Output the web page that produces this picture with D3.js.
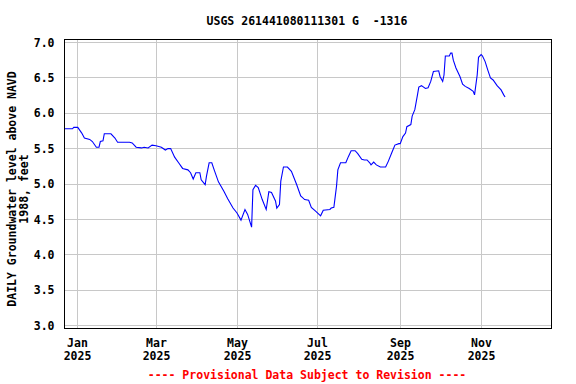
<!DOCTYPE html>
<html>
<head>
<meta charset="utf-8">
<script src="https://cdn.jsdelivr.net/npm/d3@7"></script>
<style>
  body { margin: 0; background: #fff; }
  text { font-family: "DejaVu Sans Mono", monospace; font-weight: bold; }
</style>
</head>
<body>
<div id="chart"></div>
<script>
// daily groundwater level readings (feet above NAVD 1988)
var dates = [
  "2024-12-22", "2024-12-28", "2024-12-29", "2025-01-01", "2025-01-04", "2025-01-06", "2025-01-10",
  "2025-01-12", "2025-01-15", "2025-01-17", "2025-01-18", "2025-01-20", "2025-01-21", "2025-01-26",
  "2025-01-29", "2025-01-31", "2025-02-09", "2025-02-11", "2025-02-14", "2025-02-18", "2025-02-20",
  "2025-02-23", "2025-02-26", "2025-03-01", "2025-03-05", "2025-03-08", "2025-03-10", "2025-03-12",
  "2025-03-15", "2025-03-18", "2025-03-21", "2025-03-25", "2025-03-27", "2025-03-29", "2025-03-31",
  "2025-04-03", "2025-04-04", "2025-04-07", "2025-04-08", "2025-04-10", "2025-04-12", "2025-04-14",
  "2025-04-17", "2025-04-21", "2025-04-24", "2025-04-28", "2025-05-01", "2025-05-04", "2025-05-07",
  "2025-05-09", "2025-05-12", "2025-05-13", "2025-05-15", "2025-05-17", "2025-05-20", "2025-05-23",
  "2025-05-25", "2025-05-27", "2025-05-30", "2025-05-31", "2025-06-02", "2025-06-03", "2025-06-05",
  "2025-06-08", "2025-06-11", "2025-06-15", "2025-06-18", "2025-06-21", "2025-06-24", "2025-06-26",
  "2025-06-29", "2025-07-03", "2025-07-05", "2025-07-10", "2025-07-11", "2025-07-13", "2025-07-15",
  "2025-07-16", "2025-07-18", "2025-07-22", "2025-07-24", "2025-07-26", "2025-07-29", "2025-07-31",
  "2025-08-03", "2025-08-05", "2025-08-07", "2025-08-09", "2025-08-10", "2025-08-12", "2025-08-14",
  "2025-08-17", "2025-08-21", "2025-08-23", "2025-08-26", "2025-08-28", "2025-08-31", "2025-09-01",
  "2025-09-03", "2025-09-05", "2025-09-06", "2025-09-09", "2025-09-10", "2025-09-12", "2025-09-14",
  "2025-09-15", "2025-09-17", "2025-09-20", "2025-09-22", "2025-09-24", "2025-09-26", "2025-09-30",
  "2025-10-01", "2025-10-03", "2025-10-04", "2025-10-05", "2025-10-08", "2025-10-09", "2025-10-10",
  "2025-10-11", "2025-10-13", "2025-10-16", "2025-10-18", "2025-10-20", "2025-10-23", "2025-10-26",
  "2025-10-27", "2025-10-29", "2025-10-30", "2025-11-01", "2025-11-02", "2025-11-04", "2025-11-06",
  "2025-11-08", "2025-11-10", "2025-11-13", "2025-11-16", "2025-11-18", "2025-11-19"
];
var levels = [
  5.78, 5.78, 5.80, 5.80, 5.72, 5.65, 5.63,
  5.60, 5.52, 5.52, 5.60, 5.61, 5.71, 5.71,
  5.65, 5.59, 5.59, 5.58, 5.52, 5.51, 5.52,
  5.51, 5.55, 5.54, 5.52, 5.48, 5.50, 5.50,
  5.38, 5.30, 5.22, 5.20, 5.16, 5.07, 5.16,
  5.16, 5.06, 4.99, 5.11, 5.30, 5.30, 5.19,
  5.03, 4.90, 4.79, 4.66, 4.59, 4.49, 4.64,
  4.57, 4.39, 4.92, 4.98, 4.95, 4.78, 4.64,
  4.89, 4.88, 4.76, 4.66, 4.71, 5.04, 5.24,
  5.24, 5.18, 4.99, 4.83, 4.78, 4.77, 4.67,
  4.62, 4.55, 4.63, 4.64, 4.66, 4.67, 4.97,
  5.20, 5.30, 5.30, 5.39, 5.47, 5.47, 5.43,
  5.35, 5.34, 5.34, 5.30, 5.27, 5.31, 5.27,
  5.24, 5.24, 5.32, 5.46, 5.55, 5.57, 5.57,
  5.67, 5.72, 5.81, 5.84, 5.96, 6.05, 6.26,
  6.37, 6.39, 6.35, 6.36, 6.45, 6.59, 6.60,
  6.52, 6.45, 6.54, 6.81, 6.81, 6.85, 6.85,
  6.75, 6.64, 6.52, 6.41, 6.38, 6.35, 6.31,
  6.26, 6.54, 6.79, 6.83, 6.81, 6.73, 6.61,
  6.50, 6.47, 6.39, 6.33, 6.26, 6.23
];
var monthTicks = ["2025-01-01", "2025-03-01", "2025-05-01", "2025-07-01", "2025-09-01", "2025-11-01"];
var yTicks = [3.0, 3.5, 4.0, 4.5, 5.0, 5.5, 6.0, 6.5, 7.0];

var title = "USGS 261441080111301 G  -1316";
var yLabel = ["DAILY Groundwater level above NAVD", "1988, feet"];
var footer = "---- Provisional Data Subject to Revision ----";

var width = 576, height = 384;
var margin = {top: 40, right: 25, bottom: 55, left: 64};
var plotW = width - margin.left - margin.right,
    plotH = height - margin.top - margin.bottom;
var fontSize = "11.5px";

var parse = d3.timeParse("%Y-%m-%d");
var data = dates.map(function(d, i) { return {date: parse(d), value: levels[i]}; });

var x = d3.scaleTime()
    .domain([parse("2024-12-22"), parse("2025-12-24")])
    .range([0, plotW]);
var y = d3.scaleLinear()
    .domain([3.0, 7.0])
    .range([plotH - 3, 3]);

var svg = d3.select("#chart").append("svg")
    .attr("width", width)
    .attr("height", height);

svg.append("rect")
    .attr("width", width)
    .attr("height", height)
    .attr("fill", "#fff");

var g = svg.append("g")
    .attr("transform", "translate(" + (margin.left + 0.5) + "," + (margin.top - 0.5) + ")");

// grid
var tickDates = monthTicks.map(parse);
g.append("g")
    .selectAll("line")
    .data(tickDates)
    .enter().append("line")
    .attr("x1", function(d) { return Math.round(x(d)); })
    .attr("x2", function(d) { return Math.round(x(d)); })
    .attr("y1", 0)
    .attr("y2", plotH)
    .attr("stroke", "#c8c8c8")
    .attr("stroke-width", 1);

g.append("g")
    .selectAll("line")
    .data(yTicks)
    .enter().append("line")
    .attr("x1", 0)
    .attr("x2", plotW)
    .attr("y1", function(d) { return Math.round(y(d)); })
    .attr("y2", function(d) { return Math.round(y(d)); })
    .attr("stroke", "#c8c8c8")
    .attr("stroke-width", 1);

// data line
g.append("clipPath")
    .attr("id", "clip")
    .append("rect")
    .attr("width", plotW)
    .attr("height", plotH);

g.append("path")
    .datum(data)
    .attr("clip-path", "url(#clip)")
    .attr("fill", "none")
    .attr("stroke", "#0000ff")
    .attr("stroke-width", 1.1)
    .attr("d", d3.line()
        .x(function(d) { return x(d.date); })
        .y(function(d) { return y(d.value); }));

// frame
g.append("rect")
    .attr("width", plotW)
    .attr("height", plotH)
    .attr("fill", "none")
    .attr("stroke", "#000")
    .attr("stroke-width", 1);

// y axis labels
var yAxis = d3.axisLeft(y)
    .tickValues(yTicks)
    .tickFormat(d3.format(".1f"))
    .tickSize(0)
    .tickPadding(10);
g.append("g")
    .call(yAxis)
    .call(function(s) { s.select(".domain").remove(); })
    .selectAll("text")
    .attr("font-family", "DejaVu Sans Mono")
    .attr("font-weight", "bold")
    .attr("font-size", fontSize)
    .attr("fill", "#000");

// x axis labels: month on top, year below (separate texts)
var xg = g.append("g")
    .attr("transform", "translate(0," + plotH + ")");
var ticks = xg.selectAll("g.tick")
    .data(tickDates)
    .enter().append("g")
    .attr("class", "tick")
    .attr("transform", function(d) { return "translate(" + Math.round(x(d)) + ",0)"; });
ticks.append("text")
    .attr("y", 18)
    .attr("text-anchor", "middle")
    .attr("font-size", fontSize)
    .text(d3.timeFormat("%b"));
ticks.append("text")
    .attr("y", 31)
    .attr("text-anchor", "middle")
    .attr("font-size", fontSize)
    .text(d3.timeFormat("%Y"));

// title
svg.append("text")
    .attr("x", 307)
    .attr("y", 25)
    .attr("text-anchor", "middle")
    .attr("font-size", fontSize)
    .style("white-space", "pre")
    .text(title);

// y axis title
var yl = svg.append("text")
    .attr("transform", "translate(16,189) rotate(-90)")
    .attr("text-anchor", "middle")
    .attr("font-size", fontSize);
yl.append("tspan").attr("x", 0).attr("y", 0).text(yLabel[0]);
yl.append("tspan").attr("x", 0).attr("y", 12).text(yLabel[1]);

// footer
svg.append("text")
    .attr("x", 307)
    .attr("y", 379)
    .attr("text-anchor", "middle")
    .attr("font-size", fontSize)
    .attr("fill", "#ff0000")
    .text(footer);
</script>
</body>
</html>
